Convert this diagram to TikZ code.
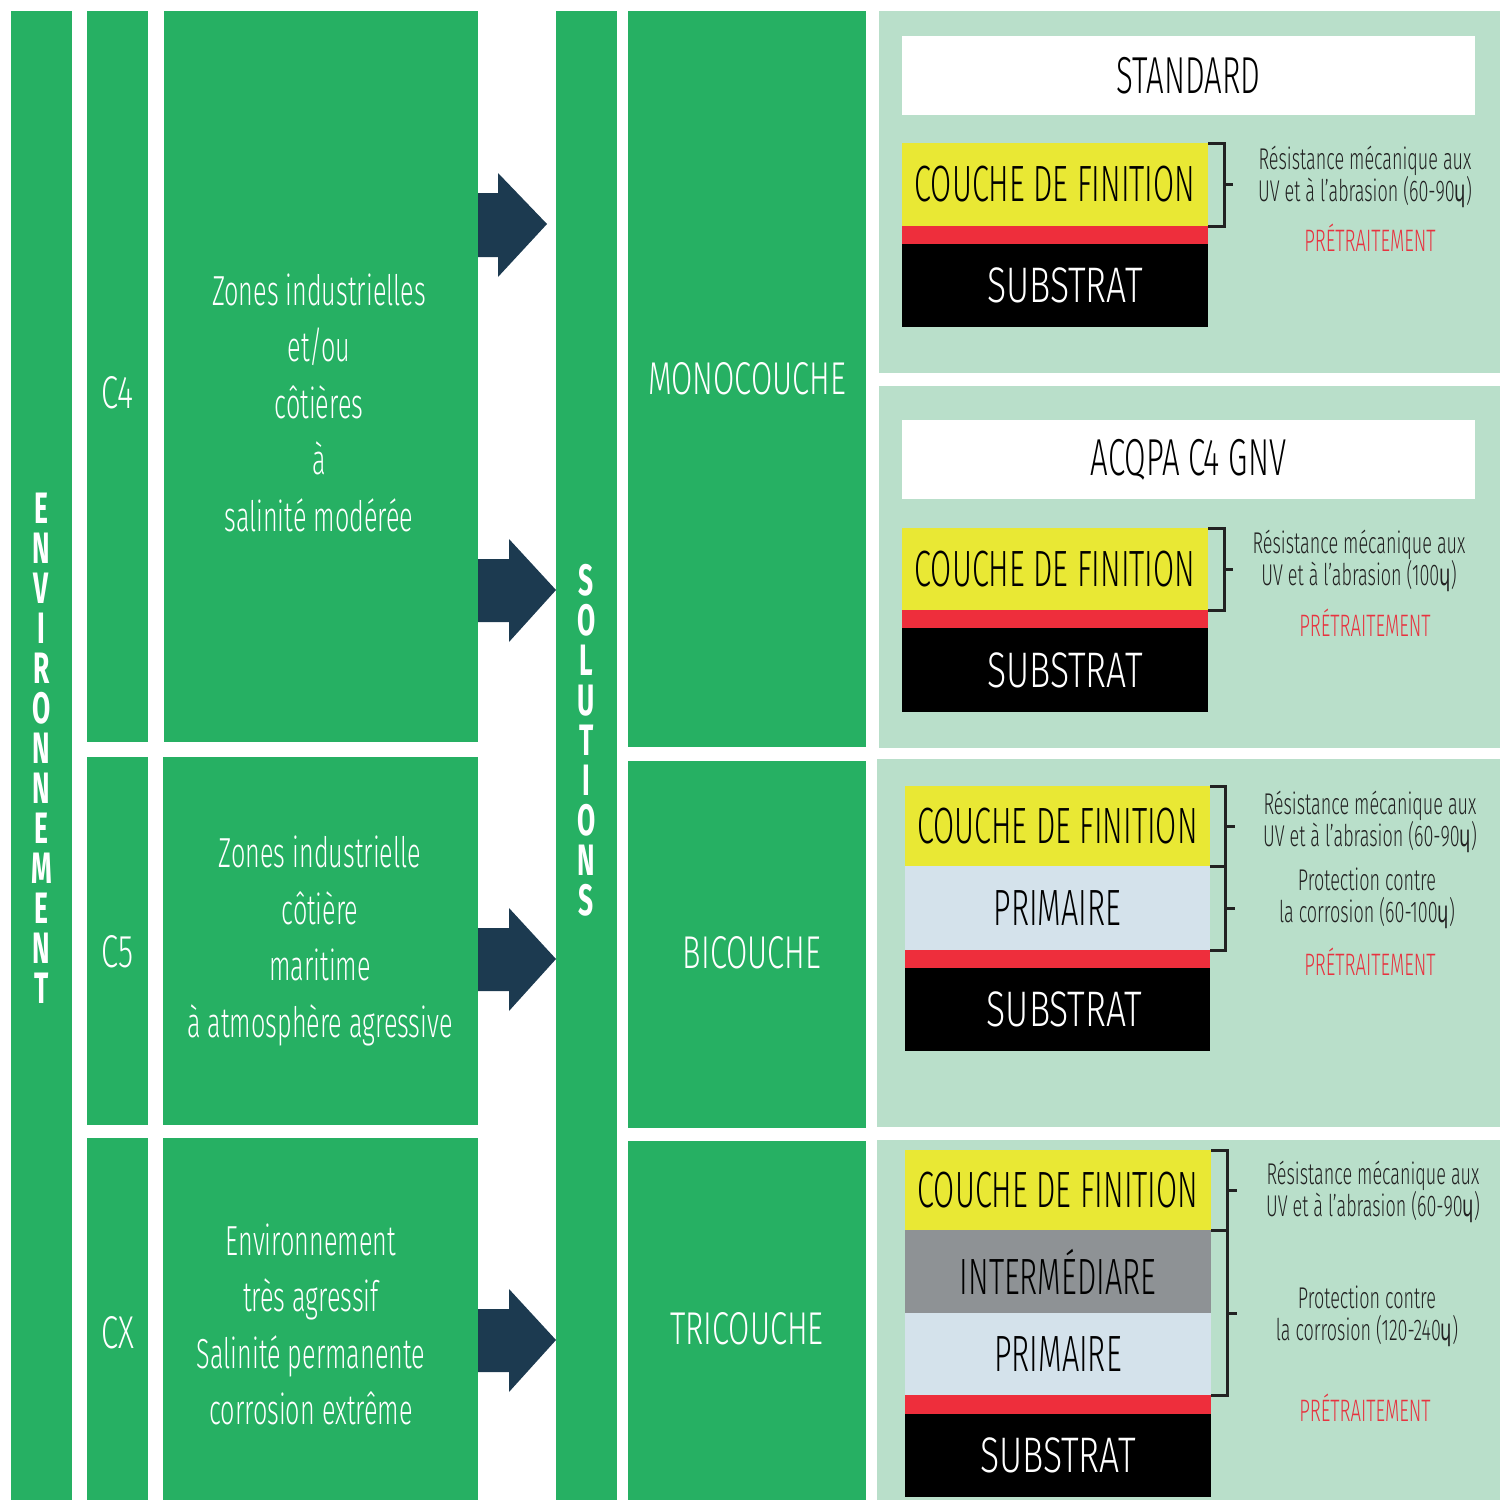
\documentclass[tikz,border=0pt]{standalone}
\usepackage{fontspec}
\IfFontExistsTF{Fira Sans Light}
  {\setmainfont{Fira Sans Light}[FakeStretch=0.6, BoldFont={Fira Sans Bold}]}
  {\setmainfont{Fira Sans}[FakeStretch=0.6]}
\newfontfamily\ipafont{DejaVu Sans}[FakeStretch=0.6]
\definecolor{vert}{HTML}{26B063}
\definecolor{vertclair}{HTML}{B9DFCA}
\definecolor{marine}{HTML}{1C3A50}
\definecolor{jaune}{HTML}{E9E834}
\definecolor{rouge}{HTML}{EE2E3C}
\definecolor{bleuclair}{HTML}{D4E2EB}
\definecolor{gris}{HTML}{8E9295}
\definecolor{rougetexte}{HTML}{E8323F}
\definecolor{trait}{HTML}{222222}
\newcommand{\fsize}[2]{\fontsize{#1}{#2}\selectfont}
\newcommand{\mic}{{\ipafont ɥ}}

\begin{document}
\begin{tikzpicture}[x=1pt, y=-1pt,
  every node/.style={inner sep=0pt, outer sep=0pt},
  colonne/.style={fill=vert, minimum width=61pt},
  bloc/.style={fill=vert},
  panneau/.style={fill=vertclair},
  titre/.style={fill=white, minimum width=573pt, minimum height=79pt, font=\fsize{52}{60}},
  couche/.style={minimum width=306pt, font=\fsize{51}{60}},
  large/.style={font=\fsize{50}{60}\addfontfeature{FakeStretch=0.71}},
  blanc/.style={text=white},
  note/.style={align=center, font=\fsize{30}{32}, text=trait},
  pretr/.style={font=\fsize{31}{32}, text=rougetexte},
  desc/.style={align=center, text=white, font=\fsize{42}{56.5}},
  nom/.style={text=white, font=\fsize{46}{50}\addfontfeature{FakeStretch=0.67}},
  lettres/.style={align=center, text=white, font=\fsize{44}{40}\bfseries},
  crochet/.style={draw=trait, line width=3pt},
  fleche/.style={fill=marine}]
  \useasboundingbox (0,0) rectangle (1500,1501);

  % environnement
  \node[colonne, minimum height=1489pt] (env) at (41.5,755.5) {};
  \node[lettres] (envt) at (41.5,748) {E\\N\\V\\I\\R\\O\\N\\N\\E\\M\\E\\N\\T};

  \node[colonne, minimum height=731pt] (c4) at (117.5,376.5) {};
  \node[colonne, minimum height=368pt] (c5) at (117.5,941) {};
  \node[colonne, minimum height=362pt] (cx) at (117.5,1319) {};
  \node[nom] (c4t) at (117.5,393) {C4};
  \node[nom] (c5t) at (117.5,952) {C5};
  \node[nom] (cxt) at (117.5,1333) {CX};

  \node[bloc, minimum width=314pt, minimum height=731pt] (d4) at (321,376.5) {};
  \node[bloc, minimum width=315pt, minimum height=368pt] (d5) at (320.5,941) {};
  \node[bloc, minimum width=315pt, minimum height=362pt] (dx) at (320.5,1319) {};
  \node[desc] (d4t) at (319,402.5) {Zones industrielles\\et/ou\\côtières\\à\\salinité modérée};
  \node[desc] (d5t) at (320,941) {Zones industrielle\\côtière\\maritime\\à atmosphère agressive};
  \node[desc] (dxt) at (311,1324.5) {Environnement\\très agressif\\Salinité permanente\\corrosion extrême};

  % fleches
  \fill[fleche] (478,193) -- (498,193) -- (498,173) -- (547,224) -- (498,277) -- (498,257) -- (478,257) -- cycle;
  \fill[fleche] (478,559) -- (509,559) -- (509,539) -- (556,590) -- (509,642) -- (509,622) -- (478,622) -- cycle;
  \fill[fleche] (478,928) -- (509,928) -- (509,908) -- (556,959) -- (509,1011) -- (509,991) -- (478,991) -- cycle;
  \fill[fleche] (478,1309) -- (509,1309) -- (509,1289) -- (556,1340) -- (509,1392) -- (509,1372) -- (478,1372) -- cycle;

  % solutions
  \node[colonne, minimum height=1489pt] (sol) at (586.5,755.5) {};
  \node[lettres] (solt) at (586.5,740) {S\\O\\L\\U\\T\\I\\O\\N\\S};

  \node[bloc, minimum width=238pt, minimum height=736pt] (mono) at (747,379) {};
  \node[bloc, minimum width=238pt, minimum height=367pt] (bi) at (747,944.5) {};
  \node[bloc, minimum width=238pt, minimum height=359pt] (tri) at (747,1320.5) {};
  \node[nom] (monot) at (747,379) {MONOCOUCHE};
  \node[nom] (bit) at (752,953) {BICOUCHE};
  \node[nom] (trit) at (747,1329) {TRICOUCHE};

  \node[panneau, minimum width=621pt, minimum height=362pt] (p1) at (1189.5,192) {};
  \node[panneau, minimum width=621pt, minimum height=362pt] (p2) at (1189.5,567) {};
  \node[panneau, minimum width=623pt, minimum height=368pt] (p3) at (1188.5,943) {};
  \node[panneau, minimum width=623pt, minimum height=360pt] (p4) at (1188.5,1320) {};

  % monocouche standard
  \node[titre] (std) at (1188.5,75.5) {STANDARD};
  \node[couche, fill=jaune, minimum height=83pt] (f1) at (1055,184.5) {COUCHE DE FINITION};
  \node[couche, fill=rouge, minimum height=18pt] (r1) at (1055,235) {};
  \node[couche, large, fill=black, blanc, minimum height=83pt] (s1) at (1055,285.5) {\hspace*{20pt}SUBSTRAT};
  \draw[crochet] (f1.north east) -- ++(16,0) |- (f1.south east);
  \draw[crochet] (f1.east) ++(16,0) -- ++(9,0);
  \node[note] (n1) at (1365,177) {Résistance mécanique aux\\UV et à l’abrasion (60-90\mic)};
  \node[pretr] (t1) at (1370,238) {PRÉTRAITEMENT};

  % monocouche acqpa
  \node[titre] (acq) at (1188.5,459.5) {ACQPA C4 GNV};
  \node[couche, fill=jaune, minimum height=82pt] (f2) at (1055,569) {COUCHE DE FINITION};
  \node[couche, fill=rouge, minimum height=18pt] (r2) at (1055,619) {};
  \node[couche, large, fill=black, blanc, minimum height=84pt] (s2) at (1055,670) {\hspace*{20pt}SUBSTRAT};
  \draw[crochet] (f2.north east) -- ++(16,0) |- (f2.south east);
  \draw[crochet] (f2.east) ++(16,0) -- ++(9,0);
  \node[note] (n2) at (1359,561) {Résistance mécanique aux\\UV et à l’abrasion (100\mic)};
  \node[pretr] (t2) at (1365,623) {PRÉTRAITEMENT};

  % bicouche
  \node[couche, fill=jaune, minimum width=305pt, minimum height=80pt] (f3) at (1057.5,826) {COUCHE DE FINITION};
  \node[couche, fill=bleuclair, minimum width=305pt, minimum height=84pt] (pr3) at (1057.5,908) {PRIMAIRE};
  \node[couche, fill=rouge, minimum width=305pt, minimum height=18pt] (r3) at (1057.5,959) {};
  \node[couche, large, fill=black, blanc, minimum width=305pt, minimum height=83pt] (s3) at (1057.5,1009.5) {\hspace*{14pt}SUBSTRAT};
  \draw[crochet] (f3.north east) -- ++(15,0) |- (f3.south east);
  \draw[crochet] (f3.east) ++(15,0) -- ++(10,0);
  \draw[crochet] (pr3.north east) -- ++(15,0) |- (pr3.south east);
  \draw[crochet] (pr3.east) ++(15,0) -- ++(10,0);
  \node[note] (n3) at (1370,822) {Résistance mécanique aux\\UV et à l’abrasion (60-90\mic)};
  \node[note] (m3) at (1367,898) {Protection contre\\la corrosion (60-100\mic)};
  \node[pretr] (t3) at (1370,962) {PRÉTRAITEMENT};

  % tricouche
  \node[couche, fill=jaune, minimum height=80pt] (f4) at (1058,1190) {COUCHE DE FINITION};
  \node[couche, fill=gris, minimum height=83pt] (i4) at (1058,1271.5) {INTERMÉDIARE};
  \node[couche, fill=bleuclair, minimum height=82pt] (pr4) at (1058,1354) {PRIMAIRE};
  \node[couche, fill=rouge, minimum height=19pt] (r4) at (1058,1404.5) {};
  \node[couche, large, fill=black, blanc, minimum height=83pt] (s4) at (1058,1455.5) {SUBSTRAT};
  \draw[crochet] (f4.north east) -- ++(16,0) |- (f4.south east);
  \draw[crochet] (f4.east) ++(16,0) -- ++(10,0);
  \draw[crochet] (i4.north east) -- ++(16,0) |- (pr4.south east);
  \draw[crochet] (i4.south east) ++(16,0) -- ++(10,0);
  \node[note] (n4) at (1373,1192) {Résistance mécanique aux\\UV et à l’abrasion (60-90\mic)};
  \node[note] (m4) at (1367,1316) {Protection contre\\la corrosion (120-240\mic)};
  \node[pretr] (t4) at (1365,1408) {PRÉTRAITEMENT};
\end{tikzpicture}
\end{document}
